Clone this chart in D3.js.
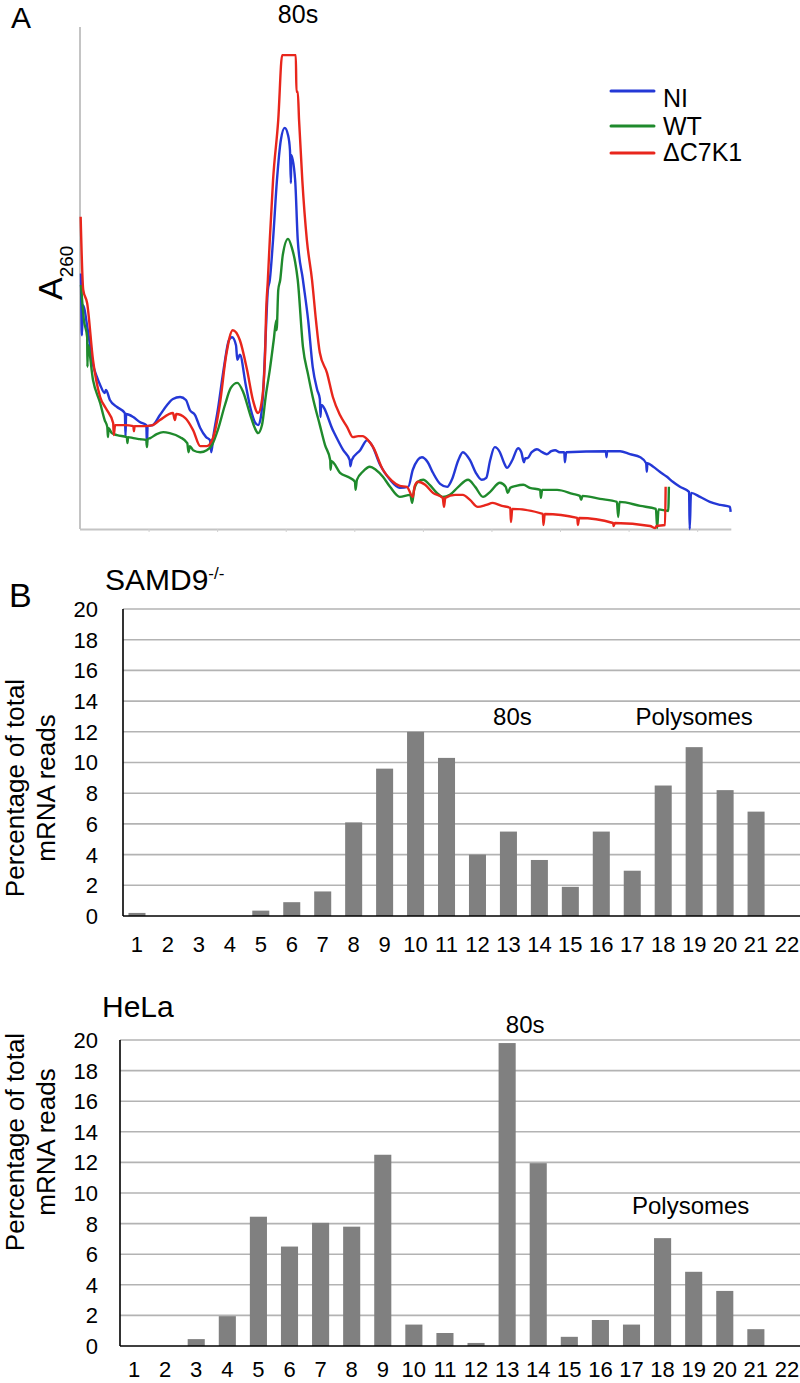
<!DOCTYPE html>
<html>
<head>
<meta charset="utf-8">
<script src="https://cdn.jsdelivr.net/npm/d3@7/dist/d3.min.js"></script>
<style>
  html, body { margin: 0; padding: 0; background: #fff; }
  svg { display: block; }
  text { font-family: "Liberation Sans", Arial, Helvetica, sans-serif; fill: #000; }
</style>
</head>
<body>
<svg id="fig" width="800" height="1383"></svg>
<script>
// ---------------- DATA ----------------
// Panel A: A260 polysome profiles, [position along gradient (0-100), A260 (arbitrary units 0-100)]
const niTrace = [[0.15,50.9],[0.3,38.6],[0.45,44.6],[1.2,39.6],[2.0,32.7],[2.6,30.3],[3.1,28.7],[3.8,27.1],[4.0,27.7],[4.6,25.7],[5.7,24.3],[6.9,23.1],[7.0,18.5],[7.1,22.9],[8.2,22.3],[9.2,21.3],[10.2,20.7],[10.3,16.7],[10.4,20.5],[11.2,20.7],[12.3,22.7],[13.4,24.7],[14.3,25.9],[15.4,26.3],[16.3,25.7],[16.9,23.7],[17.7,22.7],[18.5,20.1],[19.4,18.3],[20.0,17.7],[20.2,15.3],[20.5,18.3],[21.2,23.7],[22.2,32.7],[22.9,37.6],[23.4,38.2],[24.0,36.6],[24.2,33.7],[24.6,34.7],[25.5,28.7],[26.3,23.7],[26.9,21.3],[27.4,20.7],[27.8,22.1],[28.2,27.7],[28.6,39.6],[28.9,47.6],[29.2,49.6],[29.7,57.6],[30.3,69.5],[30.9,77.5],[31.5,79.9],[32.0,78.5],[32.3,75.5],[32.45,68.9],[32.5,74.5],[33.1,69.5],[33.5,57.6],[34.3,49.6],[35.1,41.6],[35.8,32.3],[36.5,27.7],[36.9,25.9],[37.0,22.3],[37.1,24.7],[38.9,19.7],[40.5,15.7],[41.5,13.7],[41.6,12.5],[41.8,13.7],[43.1,15.7],[44.2,17.7],[44.9,16.7],[46.2,12.7],[47.7,9.8],[49.2,8.2],[50.5,8.4],[51.2,11.8],[52.6,14.3],[53.5,13.3],[54.3,11.2],[55.4,9.0],[56.5,8.4],[57.2,9.8],[58.2,13.7],[58.9,15.3],[60.0,13.7],[60.9,11.2],[61.8,9.8],[62.5,10.2],[63.1,13.7],[63.8,16.3],[64.6,15.3],[65.2,13.3],[65.7,12.2],[66.5,13.7],[67.4,16.1],[67.9,15.3],[68.3,13.3],[68.5,14.1],[68.8,14.1],[69.5,15.3],[70.3,15.9],[71.1,15.3],[71.8,14.9],[72.5,15.5],[73.1,15.7],[73.8,15.3],[74.5,15.3],[74.6,13.3],[74.8,15.3],[80.9,15.5],[81.0,14.3],[81.1,15.5],[83.1,15.5],[84.6,14.9],[86.2,14.3],[87.1,13.1],[87.2,11.4],[87.3,13.1],[88.2,12.4],[89.2,11.4],[90.3,10.4],[91.2,9.4],[92.3,8.4],[93.7,7.4],[93.8,0],[94.0,7.2],[95.4,6.4],[96.9,5.4],[98.5,4.8],[100,4.4],[100.1,3.4]];

const wtTrace = [[0.15,48.6],[0.6,41.6],[1.1,38.2],[1.15,32.3],[1.2,36.7],[2.0,29.7],[3.1,25.1],[3.8,21.7],[4.2,20.3],[4.3,18.3],[4.4,20.1],[4.9,19.1],[5.7,18.7],[7.2,18.3],[7.3,17.1],[7.4,18.3],[8.2,18.1],[9.2,17.9],[10.2,17.7],[10.3,16.3],[10.4,17.9],[10.8,18.1],[11.8,18.9],[12.8,19.3],[13.8,19.1],[15.4,18.3],[16.5,17.1],[16.7,15.3],[16.9,16.5],[17.4,15.7],[18.5,15.3],[19.5,15.7],[20.3,16.7],[21.2,19.7],[22.3,24.7],[23.2,28.1],[24.2,29.1],[25.1,27.3],[26.2,22.7],[26.9,20.1],[27.4,19.1],[28.0,20.7],[28.6,26.7],[29.2,31.7],[29.8,37.6],[30.2,41.6],[30.25,39.6],[30.5,47.6],[30.8,49.6],[31.2,54.6],[32.0,57.8],[32.6,56.0],[33.1,53.2],[33.5,49.6],[34.3,36.3],[35.1,30.7],[35.8,26.3],[36.9,20.7],[37.7,16.7],[38.5,13.7],[38.55,11.8],[38.7,13.5],[40.0,11.2],[41.5,10.2],[42.3,9.4],[42.4,7.8],[42.6,9.8],[43.5,11.4],[44.6,12.4],[45.5,11.8],[46.6,10.4],[47.7,8.4],[49.2,6.4],[50.8,6.8],[51.1,5.2],[51.4,7.8],[52.0,9.4],[52.8,9.8],[53.8,8.8],[54.9,7.2],[55.8,6.4],[56.9,6.8],[58.2,8.4],[59.7,9.8],[60.8,8.4],[62.0,6.4],[63.1,7.4],[64.6,9.2],[65.5,8.4],[65.8,7.2],[66.2,8.2],[67.1,8.6],[68.2,8.8],[69.2,8.2],[70.8,7.8],[70.9,6.2],[71.1,7.8],[73.4,7.8],[75.8,7.0],[76.9,6.6],[77.1,5.8],[77.3,6.6],[80.0,6.0],[82.6,5.4],[82.8,2.4],[83.0,5.4],[86.2,4.6],[88.6,4.0],[88.8,0.2],[89.0,3.9],[90.5,3.6],[90.6,8.4]];

const dc7k1Trace = [[0.1,62.2],[0.5,47.6],[1.1,45.0],[2.0,33.7],[3.1,26.3],[4.0,24.0],[5.1,21.1],[5.2,18.7],[5.4,20.7],[6.9,20.7],[8.2,20.5],[8.3,19.5],[8.4,20.5],[10.0,20.5],[11.2,20.7],[12.3,21.7],[14.3,23.1],[14.6,21.7],[14.8,22.9],[16.2,22.1],[17.4,19.7],[18.5,16.5],[19.5,16.5],[20.5,18.3],[21.5,24.7],[22.5,34.7],[23.5,39.6],[24.6,37.6],[25.7,31.7],[26.6,25.7],[27.4,23.1],[28.0,25.7],[28.5,35.7],[28.6,41.6],[28.9,49.6],[29.2,57.6],[29.7,69.5],[30.5,81.5],[31.1,94.4],[33.2,94.4],[33.3,87.1],[33.5,87.1],[33.7,81.5],[34.2,69.5],[34.9,57.6],[35.7,49.6],[36.3,41.6],[36.9,35.1],[38.0,31.1],[38.9,26.3],[40.0,22.7],[41.1,20.3],[42.0,18.3],[42.8,18.5],[43.5,18.5],[44.3,17.7],[45.1,16.3],[46.6,11.8],[48.0,9.6],[49.2,8.6],[50.3,8.4],[51.2,6.4],[51.5,8.6],[52.0,9.4],[53.1,8.8],[54.3,7.2],[55.8,6.2],[56.0,4.4],[56.2,6.2],[57.7,6.8],[58.9,6.8],[60.0,5.8],[61.2,4.4],[62.5,4.8],[63.5,5.2],[64.9,4.6],[66.2,4.2],[66.3,1.4],[66.5,4.0],[71.2,3.0],[71.3,0.8],[71.5,3.0],[76.5,2.2],[76.6,0.8],[76.8,2.2],[82.0,1.2],[82.1,0.6],[82.3,1.2],[87.7,0.6],[88.5,0.2],[88.7,0.6],[90.0,0.8],[90.1,8.4]];

const traceNames = ["NI", "WT", "\u0394C7K1"];
const traceColors = ["#2438d6", "#1f8a2c", "#e8261c"];
const gradientTicks = [10.55, 21.1, 31.65, 42.2, 52.75, 63.3, 73.85, 84.4, 94.95];

// Panel B: percentage of total mRNA reads per fraction
const fractions = ["1","2","3","4","5","6","7","8","9","10","11","12","13","14","15","16","17","18","19","20","21","22"];
const samd9Values = [0.2,0,0,0,0.35,0.9,1.6,6.1,9.6,12.0,10.3,4.0,5.5,3.65,1.9,5.5,2.95,8.5,11.0,8.2,6.8,0];
const helaValues  = [0,0,0.45,1.95,8.45,6.5,8.05,7.8,12.5,1.4,0.85,0.2,19.8,11.95,0.6,1.7,1.4,7.05,4.85,3.6,1.1,0];
const yTickValues = [0,2,4,6,8,10,12,14,16,18,20];
const samd9Notes = [{text:"80s", at:"13", value:12.45, dx:4}, {text:"Polysomes", at:"19", value:12.45, dx:0}];
const helaNotes  = [{text:"80s", at:"13", value:20.45, dx:18}, {text:"Polysomes", at:"19", value:8.63, dx:-3}];

// ---------------- DRAW ----------------
const svg = d3.select("#fig");
svg.append("rect").attr("width", 800).attr("height", 1383).attr("fill", "#fff");

// ---- Panel A ----
const xA = d3.scaleLinear().domain([0, 100]).range([80, 730]);
const yA = d3.scaleLinear().domain([0, 100]).range([529, 27]);
const gA = svg.append("g");

gA.append("g")
  .attr("transform", `translate(0,${yA(0)})`)
  .call(d3.axisBottom(xA).tickValues(gradientTicks).tickSize(3).tickFormat("").tickSizeOuter(0))
  .call(g => g.select(".domain").attr("d", `M${xA(0)},0.5H${xA(100.2)}`).attr("stroke", "#c4c4c4").attr("stroke-width", 2))
  .call(g => g.selectAll(".tick line").attr("stroke", "#d0d0d0"));
gA.append("line")
  .attr("x1", xA(0)).attr("x2", xA(0)).attr("y1", yA(0)).attr("y2", yA(100))
  .attr("stroke", "#c4c4c4").attr("stroke-width", 2);

const line = d3.line().x(d => xA(d[0])).y(d => yA(d[1])).curve(d3.curveMonotoneX);
[niTrace, wtTrace, dc7k1Trace].forEach((tr, i) => {
  gA.append("path").datum(tr)
    .attr("d", line)
    .attr("fill", "none")
    .attr("stroke", traceColors[i])
    .attr("stroke-width", 2.4)
    .attr("stroke-linejoin", "round");
});

// Legend
const legYs = [91, 126, 153];
const legTextYs = [107, 135, 161];
traceNames.forEach((n, i) => {
  gA.append("line").attr("x1", 611).attr("x2", 654).attr("y1", legYs[i]).attr("y2", legYs[i])
    .attr("stroke", traceColors[i]).attr("stroke-width", 3).attr("stroke-linecap", "round");
  gA.append("text").attr("x", 663).attr("y", legTextYs[i]).attr("font-size", 25).text(n);
});

// Titles Panel A
svg.append("text").attr("x", 11).attr("y", 28).attr("font-size", 30).text("A");
svg.append("text").attr("x", 298).attr("y", 23).attr("font-size", 25).attr("text-anchor", "middle").text("80s");
const a260 = svg.append("text").attr("transform", "translate(62,300) rotate(-90)").attr("font-size", 34);
a260.append("tspan").text("A");
a260.append("tspan").attr("font-size", 19).attr("dy", 11).text("260");

// ---- Panel B ----
svg.append("text").attr("x", 9).attr("y", 607).attr("font-size", 34).text("B");

function drawBars(cfg) {
  const g = svg.append("g");
  const x = d3.scaleBand().domain(fractions).range([cfg.left - 1.5, 802.5]).paddingInner(0.45).paddingOuter(0.225);
  const y = d3.scaleLinear().domain([0, 20]).range([cfg.bottom, cfg.top]);

  // gridlines
  g.append("g").selectAll("line").data(yTickValues.filter(v => v > 0)).join("line")
    .attr("x1", cfg.left).attr("x2", 800)
    .attr("y1", d => y(d)).attr("y2", d => y(d))
    .attr("stroke", "#b3b3b3").attr("stroke-width", 1.6);

  // y tick labels
  g.append("g").selectAll("text").data(yTickValues).join("text")
    .attr("x", 98).attr("y", d => y(d)).attr("dy", "0.36em")
    .attr("text-anchor", "end").attr("font-size", 22)
    .text(d => d);

  // bars
  g.append("g").selectAll("rect").data(cfg.values).join("rect")
    .attr("x", (d, i) => x(fractions[i]))
    .attr("width", x.bandwidth())
    .attr("y", d => y(d))
    .attr("height", d => y(0) - y(d))
    .attr("fill", "#808080");

  // axes lines
  g.append("line").attr("x1", cfg.left).attr("x2", cfg.left).attr("y1", y(0)).attr("y2", y(20))
    .attr("stroke", "#000").attr("stroke-width", 1.6);
  g.append("line").attr("x1", cfg.left).attr("x2", 800).attr("y1", y(0)).attr("y2", y(0))
    .attr("stroke", "#000").attr("stroke-width", 1.6);

  // x labels
  g.append("g").selectAll("text").data(fractions).join("text")
    .attr("x", d => x(d) + x.bandwidth() / 2).attr("y", cfg.xLabelY)
    .attr("text-anchor", "middle").attr("font-size", 22)
    .text(d => d);

  // annotations
  g.append("g").selectAll("text").data(cfg.notes).join("text")
    .attr("x", d => x(d.at) + x.bandwidth() / 2 + d.dx).attr("y", d => y(d.value))
    .attr("text-anchor", "middle").attr("font-size", 24)
    .text(d => d.text);

  // title
  const t = g.append("text").attr("x", cfg.left - 18).attr("y", cfg.titleY).attr("font-size", 30);
  t.append("tspan").text(cfg.title);
  if (cfg.sup) t.append("tspan").attr("font-size", 17).attr("dy", -11).text(cfg.sup);

  // y axis title
  const yt = g.append("text").attr("transform", `translate(0,${cfg.yTitleY}) rotate(-90)`)
    .attr("text-anchor", "middle").attr("font-size", 26);
  yt.append("tspan").attr("x", 0).attr("y", 24).text("Percentage of total");
  yt.append("tspan").attr("x", 0).attr("y", 55).text("mRNA reads");
}

drawBars({values: samd9Values, left: 123, top: 609, bottom: 916, xLabelY: 952, title: "SAMD9", sup: "-/-", titleY: 590, yTitleY: 788, notes: samd9Notes});
drawBars({values: helaValues, left: 120, top: 1040, bottom: 1346, xLabelY: 1377, title: "HeLa", sup: null, titleY: 1017, yTitleY: 1142, notes: helaNotes});
</script>
</body>
</html>
